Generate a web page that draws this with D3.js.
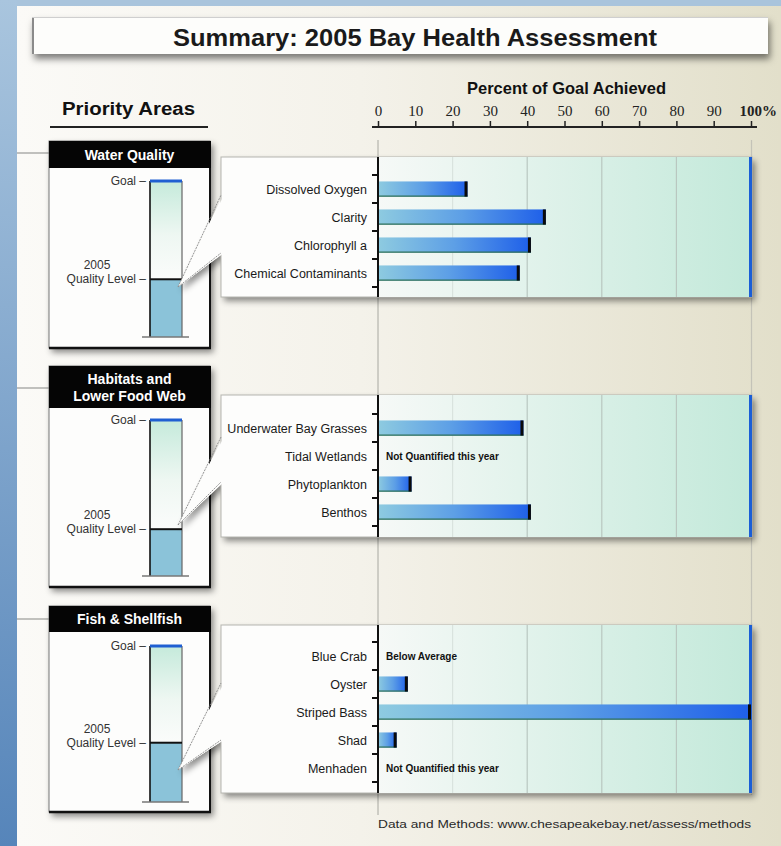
<!DOCTYPE html>
<html><head><meta charset="utf-8">
<script src="https://cdn.jsdelivr.net/npm/d3@7"></script>
<style>body{margin:0;background:#a9c4dc;overflow:hidden} svg{display:block}</style>
</head><body>
<script>
// ---------- DATA ----------
const chartTitle = "Summary: 2005 Bay Health Assessment";
const axisTitle = "Percent of Goal Achieved";
const leftTitle = "Priority Areas";
const tickValues = [0,10,20,30,40,50,60,70,80,90,100];
const tickLabels = ["0","10","20","30","40","50","60","70","80","90","100%"];
const gridValues = [20,40,60,80];
const areaNames = [["Water Quality"],["Habitats and","Lower Food Web"],["Fish & Shellfish"]];
const areaLevels = [37, 30, 38];            // 2005 quality level, % of goal (thermometers)
const wqCategories = ["Dissolved Oxygen","Clarity","Chlorophyll a","Chemical Contaminants"];
const wqValues = [24, 45, 41, 38];
const wqNotes = [null, null, null, null];
const habCategories = ["Underwater Bay Grasses","Tidal Wetlands","Phytoplankton","Benthos"];
const habValues = [39, null, 9, 41];
const habNotes = [null, "Not Quantified this year", null, null];
const fishCategories = ["Blue Crab","Oyster","Striped Bass","Shad","Menhaden"];
const fishValues = [null, 8, 100, 5, null];
const fishNotes = ["Below Average", null, null, null, "Not Quantified this year"];
const sourceNote = "Data and Methods: www.chesapeakebay.net/assess/methods";

const groups = [
  {cats: wqCategories, vals: wqValues, notes: wqNotes},
  {cats: habCategories, vals: habValues, notes: habNotes},
  {cats: fishCategories, vals: fishValues, notes: fishNotes}
];

// ---------- LAYOUT ----------
const W = 781, H = 846;
const SANS = "'Liberation Sans', Arial, Helvetica, sans-serif";
const SERIF = "'Liberation Serif', 'Times New Roman', serif";
const layout = [
  {boxTop:141, headH:27, boxBottom:348, goalY:181, baseY:337, connY:153, bandTop:175, panelTop:157, panelPad:10, tailA:195, tailB:253, tipY:287},
  {boxTop:366, headH:42, boxBottom:587, goalY:420, baseY:576, connY:388, bandTop:414, panelTop:395, panelPad:11, tailA:437, tailB:482, tipY:525},
  {boxTop:606, headH:26, boxBottom:812, goalY:646, baseY:802, connY:619, bandTop:642, panelTop:625, panelPad:11, tailA:683, tailB:740, tipY:770}
];
const STEP = 28;
const boxL = 49, boxR = 210, thL = 150, thR = 182, panelL = 221;

const x = d3.scaleLinear().domain([0,100]).range([378, 751]);

const svg = d3.select("body").append("svg").attr("width", W).attr("height", H);
const defs = svg.append("defs");

function lin(id, x1,y1,x2,y2, stops){
  const g = defs.append("linearGradient").attr("id", id)
    .attr("x1",x1).attr("y1",y1).attr("x2",x2).attr("y2",y2);
  stops.forEach(s => g.append("stop").attr("offset", s[0]).attr("stop-color", s[1]));
}
lin("leftStrip","0","0","0","1",[[0,"#a9c5de"],[1,"#5685ba"]]);
lin("mainBg","0","0","1","0",[[0,"#fbfaf7"],[0.45,"#f4f2ea"],[1,"#e2dfca"]]);
lin("panelGrad","0","0","1","0",[[0,"#f6f9f7"],[1,"#c3e9da"]]);
lin("barGrad","0","0","1","0",[[0,"#8ecbe0"],[0.5,"#5d9fe6"],[1,"#1e5fe9"]]);
lin("thermoGrad","0","0","0","1",[[0,"#c5eadb"],[0.55,"#eef7f2"],[1,"#fbfcfb"]]);

const sh = defs.append("filter").attr("id","shadow").attr("x","-10%").attr("y","-10%").attr("width","130%").attr("height","140%");
sh.append("feDropShadow").attr("dx",3).attr("dy",4).attr("stdDeviation",3).attr("flood-color","#000").attr("flood-opacity",0.45);
const sh2 = defs.append("filter").attr("id","shadow2").attr("x","-5%").attr("y","-20%").attr("width","115%").attr("height","180%");
sh2.append("feDropShadow").attr("dx",2).attr("dy",5).attr("stdDeviation",3.5).attr("flood-color","#000").attr("flood-opacity",0.5);

// ---------- BACKGROUND ----------
svg.append("rect").attr("width",W).attr("height",H).attr("fill","#a9c4dc");
svg.append("rect").attr("x",0).attr("y",0).attr("width",17).attr("height",H).attr("fill","url(#leftStrip)");
svg.append("rect").attr("x",17).attr("y",6).attr("width",W-17).attr("height",H-6).attr("fill","url(#mainBg)");

// ---------- TITLE BOX ----------
svg.append("rect").attr("x",32).attr("y",17).attr("width",736).attr("height",37)
  .attr("fill","#fdfdfb").attr("filter","url(#shadow2)");
svg.append("line").attr("x1",33).attr("x2",33).attr("y1",17).attr("y2",54).attr("stroke","#8a8a8a").attr("stroke-width",2);
svg.append("line").attr("x1",32).attr("x2",768).attr("y1",17.5).attr("y2",17.5).attr("stroke","#cfcfcf").attr("stroke-width",1);
svg.append("text").attr("x",173).attr("y",46).attr("font-family",SANS).attr("font-weight","bold")
  .attr("font-size",24).attr("textLength",484).attr("lengthAdjust","spacingAndGlyphs").attr("fill","#1a1a1a").text(chartTitle);

// ---------- HEADINGS ----------
svg.append("text").attr("x",62).attr("y",115).attr("font-family",SANS).attr("font-weight","bold")
  .attr("font-size",18).attr("textLength",133).attr("lengthAdjust","spacingAndGlyphs").attr("fill","#111").text(leftTitle);
svg.append("line").attr("x1",50).attr("x2",208).attr("y1",127).attr("y2",127).attr("stroke","#222").attr("stroke-width",2.2);
svg.append("text").attr("x",467).attr("y",94).attr("font-family",SANS).attr("font-weight","bold")
  .attr("font-size",17).attr("textLength",199).attr("lengthAdjust","spacingAndGlyphs").attr("fill","#111").text(axisTitle);

// ---------- TOP AXIS ----------
const axis = d3.axisTop(x).tickValues(tickValues).tickFormat((d,i)=>tickLabels[i])
  .tickSize(6).tickSizeOuter(0).tickPadding(5);
const ag = svg.append("g").attr("transform","translate(0,127)").call(axis);
ag.select(".domain").remove();
ag.selectAll(".tick line").attr("stroke","#222").attr("stroke-width",1.5);
ag.selectAll(".tick text").attr("font-family",SERIF).attr("font-size",15).attr("fill","#222");
ag.selectAll(".tick").filter(d => d === 100).select("text")
  .attr("text-anchor","start").attr("dx",-12).attr("font-weight","bold");
svg.append("line").attr("x1",372).attr("x2",757).attr("y1",127).attr("y2",127).attr("stroke","#222").attr("stroke-width",2.2);

// gray guide lines behind panels
svg.append("line").attr("x1",x(0)).attr("x2",x(0)).attr("y1",140).attr("y2",815).attr("stroke","#a8a8a0").attr("stroke-width",1);
svg.append("line").attr("x1",x(100)+0.5).attr("x2",x(100)+0.5).attr("y1",140).attr("y2",795).attr("stroke","#c4c3b8").attr("stroke-width",1.2);

// ---------- GROUPS ----------
groups.forEach((gd, gi) => {
  const L = layout[gi];
  const n = gd.cats.length;
  const bandBottom = L.bandTop + n*STEP;
  const panelBottom = bandBottom + L.panelPad;
  const y = d3.scaleBand().domain(gd.cats).range([L.bandTop, bandBottom]).paddingInner(0.46).paddingOuter(0.23);
  const th = d3.scaleLinear().domain([0,100]).range([L.baseY, L.goalY]);
  const g = svg.append("g");

  // connector from left edge
  g.append("line").attr("x1",17).attr("x2",boxL).attr("y1",L.connY).attr("y2",L.connY)
    .attr("stroke","#9a9a98").attr("stroke-width",1.2);

  // left box
  g.append("rect").attr("x",boxL).attr("y",L.boxTop).attr("width",boxR-boxL).attr("height",L.boxBottom-L.boxTop)
    .attr("fill","#fdfdfc").attr("stroke","#777").attr("stroke-width",1).attr("filter","url(#shadow)");
  g.append("line").attr("x1",boxR).attr("x2",boxR).attr("y1",L.boxTop).attr("y2",L.boxBottom+1).attr("stroke","#111").attr("stroke-width",2);
  g.append("line").attr("x1",boxL).attr("x2",boxR+1).attr("y1",L.boxBottom).attr("y2",L.boxBottom).attr("stroke","#111").attr("stroke-width",2.5);
  g.append("rect").attr("x",boxL).attr("y",L.boxTop).attr("width",boxR-boxL+1).attr("height",L.headH).attr("fill","#050505");
  const lines = areaNames[gi];
  const hc = L.boxTop + L.headH/2;
  lines.forEach((t, li) => {
    g.append("text").attr("x",(boxL+boxR)/2).attr("y", hc + 5 + (li - (lines.length-1)/2)*17)
      .attr("text-anchor","middle").attr("font-family",SANS).attr("font-weight","bold").attr("font-size",14)
      .attr("fill","#fff").text(t);
  });

  // thermometer
  const lvY = th(areaLevels[gi]);
  g.append("rect").attr("x",thL).attr("y",L.goalY).attr("width",thR-thL).attr("height",lvY-L.goalY).attr("fill","url(#thermoGrad)");
  g.append("rect").attr("x",thL).attr("y",lvY).attr("width",thR-thL).attr("height",L.baseY-lvY).attr("fill","#8bc3d9");
  g.append("line").attr("x1",thL).attr("x2",thL).attr("y1",L.goalY).attr("y2",L.baseY).attr("stroke","#111").attr("stroke-width",1.6);
  g.append("line").attr("x1",thR).attr("x2",thR).attr("y1",L.goalY).attr("y2",L.baseY).attr("stroke","#666").attr("stroke-width",1.2);
  g.append("line").attr("x1",thL).attr("x2",thR).attr("y1",lvY).attr("y2",lvY).attr("stroke","#111").attr("stroke-width",2);
  g.append("line").attr("x1",thL).attr("x2",thR).attr("y1",th(100)).attr("y2",th(100)).attr("stroke","#1f5fd2").attr("stroke-width",3);
  g.append("line").attr("x1",142).attr("x2",189).attr("y1",L.baseY).attr("y2",L.baseY).attr("stroke","#777").attr("stroke-width",1.5);
  const lab = g.append("g").attr("font-family",SANS).attr("font-size",12).attr("fill","#333");
  lab.append("text").attr("x",146).attr("y",th(100)+4).attr("text-anchor","end").text("Goal –");
  lab.append("text").attr("x",97).attr("y",lvY-10).attr("text-anchor","middle").text("2005");
  lab.append("text").attr("x",146).attr("y",lvY+4).attr("text-anchor","end").text("Quality Level –");

  // panel + callout tail (shadowed)
  const tip = [178, L.tipY];
  const sg = g.append("g").attr("filter","url(#shadow)");
  sg.append("rect").attr("x",panelL).attr("y",L.panelTop).attr("width",x(100)+1-panelL).attr("height",panelBottom-L.panelTop).attr("fill","#fdfdfc");
  sg.append("polygon").attr("points",[tip,[panelL+2,L.tailA],[panelL+2,L.tailB]].map(p=>p.join(",")).join(" ")).attr("fill","#fdfdfc");
  g.append("rect").attr("x",panelL).attr("y",L.panelTop).attr("width",x(100)+1-panelL).attr("height",panelBottom-L.panelTop)
    .attr("fill","none").attr("stroke","#b5b5b0").attr("stroke-width",1);
  g.append("polygon").attr("points",[tip,[panelL+3,L.tailA],[panelL+3,L.tailB]].map(p=>p.join(",")).join(" ")).attr("fill","#fdfdfc");
  g.append("line").attr("x1",tip[0]).attr("y1",tip[1]).attr("x2",panelL).attr("y2",L.tailA)
    .attr("stroke","#8a8a8a").attr("stroke-width",0.9).attr("stroke-dasharray","2,1");
  g.append("line").attr("x1",tip[0]).attr("y1",tip[1]).attr("x2",panelL).attr("y2",L.tailB)
    .attr("stroke","#8a8a8a").attr("stroke-width",0.9).attr("stroke-dasharray","2,1");

  // gradient plot area
  g.append("rect").attr("x",x(0)).attr("y",L.panelTop).attr("width",x(100)-x(0)).attr("height",panelBottom-L.panelTop).attr("fill","url(#panelGrad)");
  g.selectAll(".grid").data(gridValues).join("line")
    .attr("x1",d=>x(d)).attr("x2",d=>x(d)).attr("y1",L.panelTop).attr("y2",panelBottom)
    .attr("stroke",d=> d===20 ? "#d9e3de" : "#b9c7c0").attr("stroke-width",1.2);
  g.append("line").attr("x1",x(100)-0.5).attr("x2",x(100)-0.5).attr("y1",L.panelTop).attr("y2",panelBottom)
    .attr("stroke","#1a5ed6").attr("stroke-width",3);

  // bars
  gd.cats.forEach((c, i) => {
    const v = gd.vals[i];
    const by = y(c), bh = y.bandwidth();
    if (v != null) {
      g.append("rect").attr("x",x(0)).attr("y",by).attr("width",x(v)-x(0)).attr("height",bh).attr("fill","url(#barGrad)");
      g.append("line").attr("x1",x(0)).attr("x2",x(v)).attr("y1",by+bh-0.5).attr("y2",by+bh-0.5).attr("stroke","#2f7059").attr("stroke-width",1.2);
      g.append("rect").attr("x",x(v)-3).attr("y",by).attr("width",3).attr("height",bh).attr("fill","#0a0a0a");
    }
    if (gd.notes[i]) {
      g.append("text").attr("x",x(0)+8).attr("y",by+bh/2+3.5).attr("font-family",SANS).attr("font-weight","bold")
        .attr("font-size",10).attr("fill","#111").text(gd.notes[i]);
    }
    g.append("text").attr("x",367).attr("y",by+bh/2+4.5).attr("text-anchor","end").attr("font-family",SANS)
      .attr("font-size",12.5).attr("fill","#1a1a1a").text(c);
  });

  // zero axis and band ticks
  g.append("line").attr("x1",x(0)).attr("x2",x(0)).attr("y1",L.panelTop).attr("y2",panelBottom).attr("stroke","#111").attr("stroke-width",2);
  d3.range(n+1).forEach(k => {
    const ty = L.bandTop + k*y.step();
    g.append("line").attr("x1",372).attr("x2",x(0)).attr("y1",ty).attr("y2",ty).attr("stroke","#111").attr("stroke-width",2);
  });
});

// ---------- SOURCE ----------
svg.append("text").attr("x",378).attr("y",828).attr("font-family",SANS).attr("font-size",11.5)
  .attr("textLength",373).attr("lengthAdjust","spacingAndGlyphs").attr("fill","#2a2a2a").text(sourceNote);
</script>
</body></html>
